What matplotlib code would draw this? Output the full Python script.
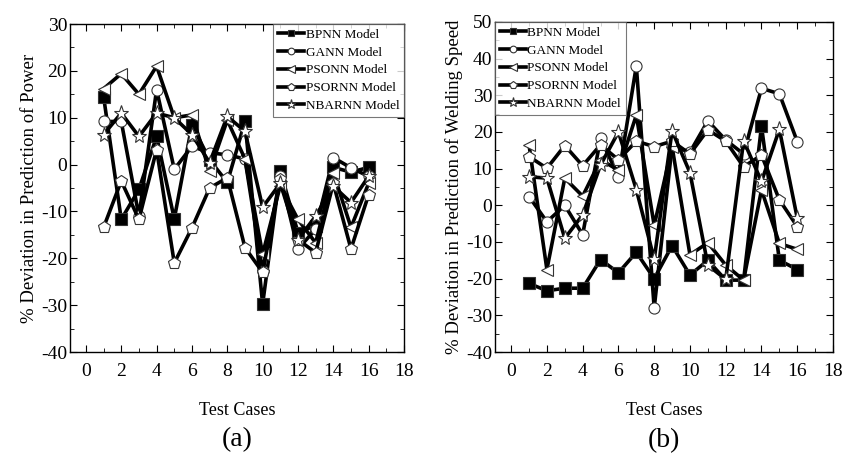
import matplotlib
matplotlib.use("Agg")
import matplotlib.pyplot as plt
from matplotlib.ticker import MultipleLocator

plt.rcParams['font.family'] = ['Liberation Serif', 'DejaVu Serif']
plt.rcParams['axes.unicode_minus'] = False

cases = list(range(1, 17))
models = ["BPNN Model", "GANN Model", "PSONN Model", "PSORNN Model", "NBARNN Model"]

# Panel (a): % deviation in prediction of power
power_bpnn = [14.5, -11.7, -5.3, 6, -11.6, 8.5, 1, -3.8, 9.2, -29.8, -1.4, -14.5, -13, -0.6, -1.6, -0.6]
power_gann = [9.2, 9.2, -11, 16, -1, 3.9, 2.5, 2.1, 1.2, -22.7, -2.5, -18, -13.8, 1.5, -0.7, -2.5]
power_psonn = [16.2, 19.4, 15, 21, 10, 10.6, -1.4, 9.5, 1.2, -19.1, -4.5, -11.7, -16.7, -1.7, -13.4, -4]
power_psornn = [-13.4, -3.5, -11.7, 3.2, -21, -13.5, -5, -2.8, -17.7, -23, -3, -16, -18.8, -4, -18, -6.4]
power_nbarnn = [6.4, 11, 6, 11, 10, 6.4, 0.4, 10.3, 7.1, -9.1, -4, -16, -11, -4.6, -8.1, -2.5]

# Panel (b): % deviation in prediction of welding speed
speed_bpnn = [-21.3, -23.3, -22.6, -22.6, -14.8, -18.4, -12.8, -20, -11, -19, -15, -20.4, -20.4, 21.6, -15, -17.5]
speed_gann = [2.4, -4.5, 0, -8, 18.3, 7.8, 38, -28, 16.2, 14.5, 23, 17.8, 14, 31.9, 30.4, 17.4]
speed_psonn = [16.5, -17.5, 7.4, 2.5, 12.4, 9.6, 24.6, -5.5, 16, -13.5, -10.2, -16.3, -20.4, 4.2, -10.4, -12]
speed_psornn = [13.3, 10.1, 16.3, 10.8, 16.5, 12.4, 17.5, 16, 17.5, 14, 20.6, 17.5, 10.5, 13.7, 1.5, -5.8]
speed_nbarnn = [7.8, 7.4, -9, -2.6, 11, 20, 4.3, -14.7, 20.3, 8.9, -16.3, -20.2, 17.6, 6.5, 20.7, -3.5]

markers = ['s', 'o', '<', 'p', '*']
sizes = [8, 8, 9, 9, 11]
fills = ['black', 'white', 'white', 'white', 'white']

fig = plt.figure(figsize=(8.55, 4.61), dpi=100)
ax1 = fig.add_axes([0.0819, 0.2364, 0.3906, 0.7115])
ax2 = fig.add_axes([0.579, 0.2364, 0.3953, 0.716])

def draw(ax, series, ylim, ylabel, legloc, tag):
    for vals, lab, m, ms, fc in zip(series, models, markers, sizes, fills):
        ax.plot(cases, vals, color='black', lw=2.6, marker=m, ms=ms,
                mfc=fc, mec='#333333', mew=0.8, label=lab)
    ax.set_xlim(-0.9, 18)
    ax.set_ylim(*ylim)
    ax.xaxis.set_major_locator(MultipleLocator(2))
    ax.xaxis.set_minor_locator(MultipleLocator(1))
    ax.yaxis.set_major_locator(MultipleLocator(10))
    ax.yaxis.set_minor_locator(MultipleLocator(5))
    ax.tick_params(which='both', direction='in', top=True, right=True, labelsize=14)
    ax.tick_params(which='major', length=5)
    ax.tick_params(which='minor', length=3)
    ax.tick_params(axis='x', pad=8)
    ax.tick_params(axis='y', pad=2)
    for s in ax.spines.values():
        s.set_linewidth(1.0)
    ax.set_xlabel('Test Cases', fontsize=13, labelpad=16)
    ax.set_ylabel(ylabel, fontsize=13.5, labelpad=2)
    leg = ax.legend(loc=legloc, fontsize=9.5, handlelength=2.0, handletextpad=0.1,
                    borderaxespad=0.0, borderpad=0.35, labelspacing=0.42,
                    frameon=True, fancybox=False, markerscale=0.6)
    leg.get_frame().set_edgecolor('#555555')
    leg.get_frame().set_linewidth(0.8)
    ax.text(0.5, -0.268, tag, transform=ax.transAxes, ha='center', va='center', fontsize=20)

draw(ax1, [power_bpnn, power_gann, power_psonn, power_psornn, power_nbarnn],
     (-40, 30), '% Deviation in Prediction of Power', 'upper right', '(a)')
draw(ax2, [speed_bpnn, speed_gann, speed_psonn, speed_psornn, speed_nbarnn],
     (-40, 50), '% Deviation in Prediction of Welding Speed', 'upper left', '(b)')

fig.savefig('out.png', dpi=100)
